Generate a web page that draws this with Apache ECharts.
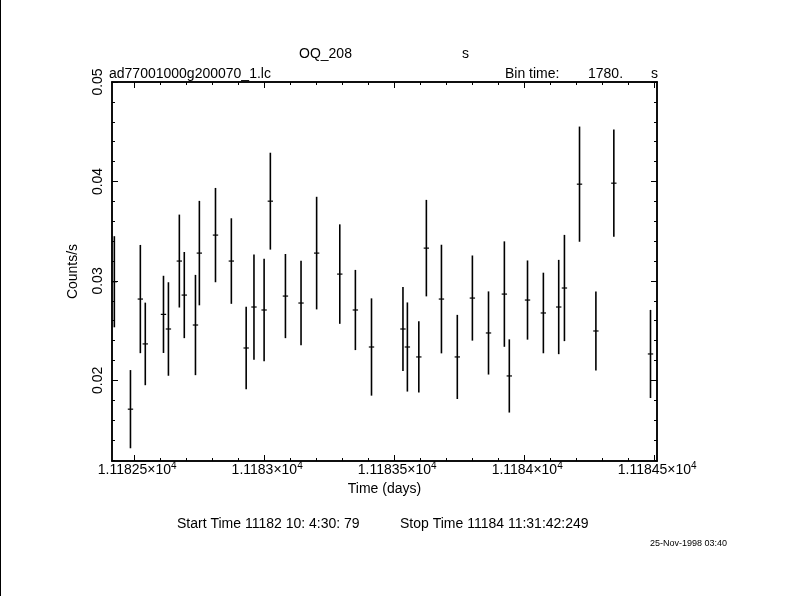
<!DOCTYPE html>
<html>
<head>
<meta charset="utf-8">
<script src="https://cdn.jsdelivr.net/npm/echarts@6/dist/echarts.min.js"></script>
<style>
html,body{margin:0;padding:0;background:#fff;}
#chart{width:790px;height:596px;}
</style>
</head>
<body>
<div id="chart"></div>
<script>
// ---- data ----
const TIME = [
  11182.423, 11182.485, 11182.523, 11182.542, 11182.612, 11182.631, 11182.673, 11182.692,
  11182.735, 11182.750, 11182.812, 11182.873, 11182.930, 11182.960, 11182.999, 11183.023,
  11183.081, 11183.141, 11183.201, 11183.290, 11183.350, 11183.412, 11183.533, 11183.550,
  11183.594, 11183.623, 11183.681, 11183.742, 11183.800, 11183.862, 11183.923, 11183.942,
  11184.012, 11184.073, 11184.132, 11184.154, 11184.212, 11184.275, 11184.344, 11184.485
];
const RATE = [
  0.02992, 0.01711, 0.02818, 0.02367, 0.02664, 0.02517, 0.03200, 0.02858,
  0.02557, 0.03280, 0.03461, 0.03200, 0.02326, 0.02738, 0.02708, 0.03802,
  0.02848, 0.02778, 0.03280, 0.03069, 0.02708, 0.02336, 0.02517, 0.02336,
  0.02236, 0.03330, 0.02818, 0.02236, 0.02828, 0.02477, 0.02868, 0.02045,
  0.02808, 0.02678, 0.02738, 0.02929, 0.03973, 0.02497, 0.03983, 0.02266
];
const RATE_ERR = [
  0.00458, 0.00393, 0.00544, 0.00415, 0.00388, 0.00470, 0.00467, 0.00433,
  0.00504, 0.00525, 0.00474, 0.00430, 0.00415, 0.00529, 0.00514, 0.00487,
  0.00423, 0.00425, 0.00566, 0.00500, 0.00403, 0.00489, 0.00423, 0.00448,
  0.00358, 0.00485, 0.00546, 0.00423, 0.00428, 0.00418, 0.00530, 0.00368,
  0.00398, 0.00405, 0.00474, 0.00534, 0.00579, 0.00398, 0.00539, 0.00443
];
const HALF_BIN_DAYS = 0.0103; // 1780 s / 2

// ---- ticks and labels ----
const X_MAJOR = [11182.5, 11183.0, 11183.5, 11184.0, 11184.5];
const X_LABELS = ['1.11825', '1.1183', '1.11835', '1.1184', '1.11845'];
const X_MINOR = [
  11182.6, 11182.7, 11182.8, 11182.9, 11183.1, 11183.2, 11183.3, 11183.4,
  11183.6, 11183.7, 11183.8, 11183.9, 11184.1, 11184.2, 11184.3, 11184.4
];
const Y_MAJOR = [0.02, 0.03, 0.04, 0.05];
const Y_LABELS = ['0.02', '0.03', '0.04', '0.05'];
const Y_MINOR = [
  0.012, 0.014, 0.016, 0.018, 0.022, 0.024, 0.026, 0.028,
  0.032, 0.034, 0.036, 0.038, 0.042, 0.044, 0.046, 0.048
];

const FONT = '"Liberation Sans", Arial, sans-serif';
const XMIN = 11182.414, XMAX = 11184.510;
const YMIN = 0.0119, YMAX = 0.05;

function findLabel(vals, labels, v) {
  for (let i = 0; i < vals.length; i++) {
    if (Math.abs(vals[i] - v) < 1e-7) return labels[i];
  }
  return '';
}

function xAxisDef(position, values, len, withLabel) {
  return {
    type: 'value', position: position, min: XMIN, max: XMAX,
    axisLine: { show: true, onZero: false, lineStyle: { color: '#000', width: 1.5 } },
    axisTick: { show: true, inside: true, length: len, customValues: values, lineStyle: { color: '#000', width: 1 } },
    axisLabel: withLabel ? {
      show: true, customValues: values, margin: 0, color: '#000',
      fontFamily: FONT, fontSize: 14,
      formatter: function (v) { return '{pad|4}{b|' + findLabel(X_MAJOR, X_LABELS, v) + '×10}{sup|4}'; },
      rich: {
        b: { fontFamily: FONT, fontSize: 14, color: '#000' },
        pad: { fontFamily: FONT, fontSize: 10, color: 'rgba(0,0,0,0)', padding: [0, 0, 9, 0] },
        sup: { fontFamily: FONT, fontSize: 10, color: '#000', padding: [0, 0, 9, 0] }
      }
    } : { show: false },
    splitLine: { show: false }, minorTick: { show: false }
  };
}
function yAxisDef(position, values, len, withLabel) {
  return {
    type: 'value', position: position, min: YMIN, max: YMAX,
    axisLine: { show: true, onZero: false, lineStyle: { color: '#000', width: 1.5 } },
    axisTick: { show: true, inside: true, length: len, customValues: values, lineStyle: { color: '#000', width: 1 } },
    axisLabel: withLabel ? {
      show: true, customValues: values, rotate: 90, margin: 7, color: '#000',
      fontFamily: FONT, fontSize: 14,
      formatter: function (v) { return findLabel(Y_MAJOR, Y_LABELS, v); }
    } : { show: false },
    splitLine: { show: false }, minorTick: { show: false }
  };
}

const xAxes = [
  xAxisDef('bottom', X_MAJOR, 6, true),
  xAxisDef('bottom', X_MINOR, 3, false),
  xAxisDef('top', X_MAJOR, 6, false),
  xAxisDef('top', X_MINOR, 3, false)
];
xAxes[0].name = 'Time (days)';
xAxes[0].nameLocation = 'middle';
xAxes[0].nameGap = 21;
xAxes[0].nameTextStyle = { color: '#000', fontFamily: FONT, fontSize: 14 };

const yAxes = [
  yAxisDef('left', Y_MAJOR, 6, true),
  yAxisDef('left', Y_MINOR, 3, false),
  yAxisDef('right', Y_MAJOR, 6, false),
  yAxisDef('right', Y_MINOR, 3, false)
];
yAxes[0].name = 'Counts/s';
yAxes[0].nameLocation = 'middle';
yAxes[0].nameGap = 32;
yAxes[0].nameTextStyle = { color: '#000', fontFamily: FONT, fontSize: 14 };

const points = TIME.map((t, i) => [t, RATE[i], RATE_ERR[i], HALF_BIN_DAYS]);

function txt(text, x, y, size, align) {
  return {
    type: 'text', x: x, y: y, silent: true,
    style: { text: text, fill: '#000', font: size + 'px ' + FONT, align: align || 'left', verticalAlign: 'middle' }
  };
}

const chart = echarts.init(document.getElementById('chart'), null, { renderer: 'canvas' });
chart.setOption({
  animation: false,
  backgroundColor: '#fff',
  grid: { left: 112, right: 133, top: 82, bottom: 135, containLabel: false, show: false },
  xAxis: xAxes,
  yAxis: yAxes,
  series: [{
    type: 'custom',
    name: 'ad77001000g200070_1.lc',
    xAxisIndex: 0, yAxisIndex: 0,
    clip: false,
    data: points,
    encode: { x: 0, y: 1 },
    renderItem: function (params, api) {
      const x = api.value(0), y = api.value(1), e = api.value(2), h = api.value(3);
      const top = api.coord([x, y + e]);
      const bot = api.coord([x, y - e]);
      const l = api.coord([x - h, y]);
      const r = api.coord([x + h, y]);
      return {
        type: 'group',
        children: [
          { type: 'line', shape: { x1: top[0], y1: top[1], x2: bot[0], y2: bot[1] }, style: { stroke: '#000', lineWidth: 1.6 } },
          { type: 'line', shape: { x1: l[0], y1: l[1], x2: r[0], y2: r[1] }, style: { stroke: '#000', lineWidth: 1.2 } }
        ]
      };
    }
  }],
  graphic: [
    { type: 'rect', shape: { x: 0, y: 0, width: 1, height: 596 }, style: { fill: '#000' }, silent: true },
    txt('OQ_208', 299, 54, 14),
    txt('s', 462, 54, 14),
    txt('ad77001000g200070_1.lc', 109, 74, 14),
    txt('Bin time:', 505, 74, 14),
    txt('1780.', 588, 74, 14),
    txt('s', 651, 74, 14),
    txt('Start Time 11182 10: 4:30: 79', 177, 524, 14),
    txt('Stop Time 11184 11:31:42:249', 400, 524, 14),
    txt('25-Nov-1998 03:40', 650, 544, 9)
  ]
});
</script>
</body>
</html>
